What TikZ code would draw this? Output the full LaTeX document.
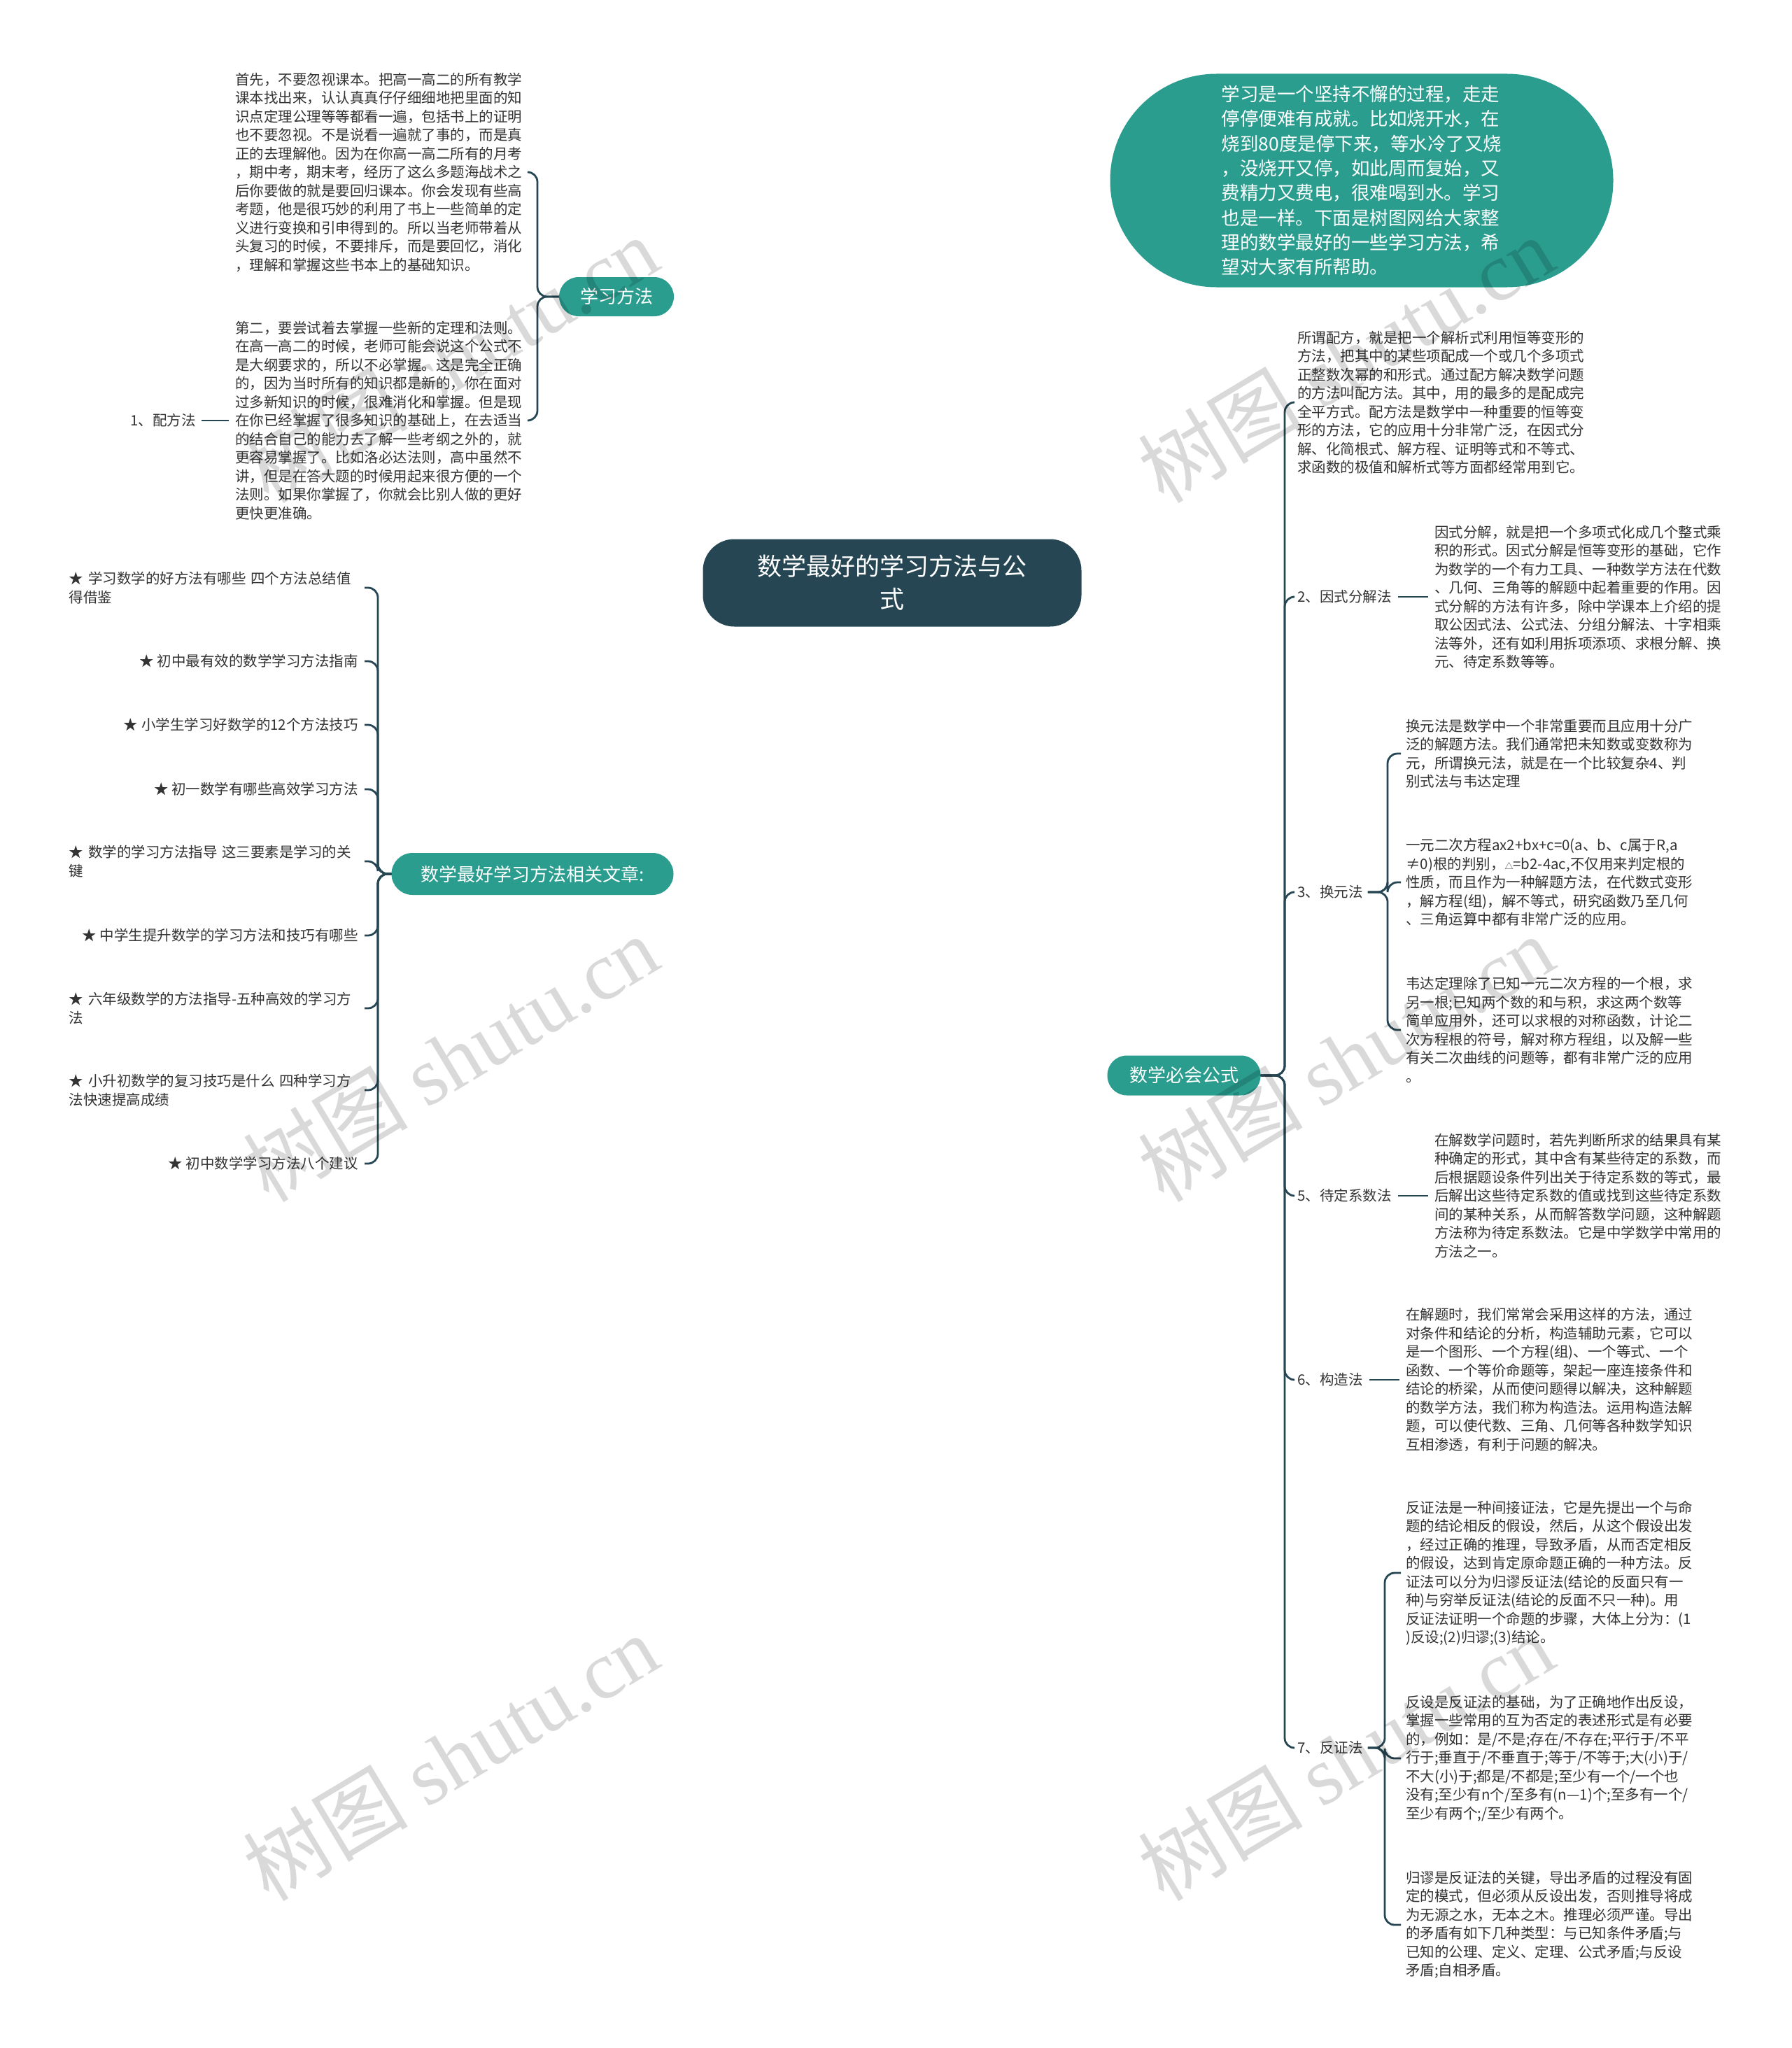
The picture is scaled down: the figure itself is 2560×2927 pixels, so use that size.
\documentclass[tikz,border=0pt]{standalone}
\usepackage{fontspec}
\setmainfont{Noto Sans CJK SC}
\newfontfamily\wmserif{Liberation Serif}
\usetikzlibrary{backgrounds}
\definecolor{dk}{HTML}{264653}
\definecolor{tl}{HTML}{2A9D8F}
\definecolor{tx}{HTML}{333333}
\tikzset{
  leaf/.style={inner sep=0pt, align=left, text=tx, font=\fontsize{20.5}{26.5}\selectfont},
  branch/.style={fill=tl, text=white, inner sep=0pt, font=\fontsize{26}{30}\selectfont},
  conn/.style={draw=dk, line width=3pt},
  brk/.style={draw=dk, line width=2.8pt, rounded corners=14pt},
  wm/.style={text=black, opacity=0.15, rotate=31, inner sep=0pt, font=\fontsize{118}{120}\selectfont}
}
\begin{document}
\begin{tikzpicture}[x=1pt,y=-1pt]
\useasboundingbox (0,0) rectangle (2560,2927);
\fill[white] (0,0) rectangle (2560,2927);

% root and main branches
\node[fill=dk, text=white, rounded corners=45pt, minimum width=541pt, minimum height=125pt, align=center, inner sep=0pt, font=\fontsize{35}{47}\selectfont] (root) at (1275,833) {数学最好的学习方法与公\\式};
\node[fill=tl, text=white, rounded corners=152pt, minimum width=719pt, minimum height=305pt, align=left, inner sep=0pt, font=\fontsize{26.5}{35.3}\selectfont] (intro) at (1946,258) {学习是一个坚持不懈的过程，走走\\停停便难有成就。比如烧开水，在\\烧到80度是停下来，等水冷了又烧\\，没烧开又停，如此周而复始，又\\费精力又费电，很难喝到水。学习\\也是一样。下面是树图网给大家整\\理的数学最好的一些学习方法，希\\望对大家有所帮助。};
\node[branch, rounded corners=28pt, minimum width=164pt, minimum height=56pt] (xf) at (881,424) {学习方法};
\node[branch, rounded corners=30pt, minimum width=403pt, minimum height=60pt] (wz) at (761,1249) {数学最好学习方法相关文章:};
\node[branch, rounded corners=28pt, minimum width=219pt, minimum height=57pt] (ms) at (1692,1537) {数学必会公式};

% 学习方法 children
\node[leaf, anchor=west] (b1) at (336,246) {首先，不要忽视课本。把高一高二的所有教学\\课本找出来，认认真真仔仔细细地把里面的知\\识点定理公理等等都看一遍，包括书上的证明\\也不要忽视。不是说看一遍就了事的，而是真\\正的去理解他。因为在你高一高二所有的月考\\，期中考，期末考，经历了这么多题海战术之\\后你要做的就是要回归课本。你会发现有些高\\考题，他是很巧妙的利用了书上一些简单的定\\义进行变换和引申得到的。所以当老师带着从\\头复习的时候，不要排斥，而是要回忆，消化\\，理解和掌握这些书本上的基础知识。};
\node[leaf, anchor=west] (b2) at (336,601) {第二，要尝试着去掌握一些新的定理和法则。\\在高一高二的时候，老师可能会说这个公式不\\是大纲要求的，所以不必掌握。这是完全正确\\的，因为当时所有的知识都是新的，你在面对\\过多新知识的时候，很难消化和掌握。但是现\\在你已经掌握了很多知识的基础上，在去适当\\的结合自己的能力去了解一些考纲之外的，就\\更容易掌握了。比如洛必达法则，高中虽然不\\讲，但是在答大题的时候用起来很方便的一个\\法则。如果你掌握了，你就会比别人做的更好\\更快更准确。};
\node[leaf, anchor=east] (pf) at (280,601) {1、配方法};

% related articles
\node[leaf, anchor=east, text width=413pt] (w1) at (512,840) {★ 学习数学的好方法有哪些 四个方法总结值\\得借鉴};
\node[leaf, anchor=east] (w2) at (512,945) {★ 初中最有效的数学学习方法指南};
\node[leaf, anchor=east] (w3) at (512,1036) {★ 小学生学习好数学的12个方法技巧};
\node[leaf, anchor=east] (w4) at (512,1128) {★ 初一数学有哪些高效学习方法};
\node[leaf, anchor=east, text width=413pt] (w5) at (512,1231) {★ 数学的学习方法指导 这三要素是学习的关\\键};
\node[leaf, anchor=east] (w6) at (512,1337) {★ 中学生提升数学的学习方法和技巧有哪些};
\node[leaf, anchor=east, text width=413pt] (w7) at (512,1441) {★ 六年级数学的方法指导-五种高效的学习方\\法};
\node[leaf, anchor=east, text width=413pt] (w8) at (512,1558) {★ 小升初数学的复习技巧是什么 四种学习方\\法快速提高成绩};
\node[leaf, anchor=east] (w9) at (512,1663) {★ 初中数学学习方法八个建议};

% formulas
\node[leaf, anchor=west] (fa) at (1854,575) {所谓配方，就是把一个解析式利用恒等变形的\\方法，把其中的某些项配成一个或几个多项式\\正整数次幂的和形式。通过配方解决数学问题\\的方法叫配方法。其中，用的最多的是配成完\\全平方式。配方法是数学中一种重要的恒等变\\形的方法，它的应用十分非常广泛，在因式分\\解、化简根式、解方程、证明等式和不等式、\\求函数的极值和解析式等方面都经常用到它。};
\node[leaf, anchor=west] (ys) at (1854,853) {2、因式分解法};
\node[leaf, anchor=west] (ysb) at (2050,853) {因式分解，就是把一个多项式化成几个整式乘\\积的形式。因式分解是恒等变形的基础，它作\\为数学的一个有力工具、一种数学方法在代数\\、几何、三角等的解题中起着重要的作用。因\\式分解的方法有许多，除中学课本上介绍的提\\取公因式法、公式法、分组分解法、十字相乘\\法等外，还有如利用拆项添项、求根分解、换\\元、待定系数等等。};
\node[leaf, anchor=west] (hy) at (1854,1275) {3、换元法};
\node[leaf, anchor=west] (c1) at (2009,1077) {换元法是数学中一个非常重要而且应用十分广\\泛的解题方法。我们通常把未知数或变数称为\\元，所谓换元法，就是在一个比较复杂4、判\\别式法与韦达定理};
\node[leaf, anchor=west] (c2) at (2009,1261) {一元二次方程ax2+bx+c=0(a、b、c属于R,a\\≠0)根的判别，{\fontsize{12}{12}\selectfont △}=b2-4ac,不仅用来判定根的\\性质，而且作为一种解题方法，在代数式变形\\，解方程(组)，解不等式，研究函数乃至几何\\、三角运算中都有非常广泛的应用。};
\node[leaf, anchor=west] (c3) at (2009,1472) {韦达定理除了已知一元二次方程的一个根，求\\另一根;已知两个数的和与积，求这两个数等\\简单应用外，还可以求根的对称函数，计论二\\次方程根的符号，解对称方程组，以及解一些\\有关二次曲线的问题等，都有非常广泛的应用\\。};
\node[leaf, anchor=west] (dd) at (1854,1709) {5、待定系数法};
\node[leaf, anchor=west] (ddb) at (2050,1709) {在解数学问题时，若先判断所求的结果具有某\\种确定的形式，其中含有某些待定的系数，而\\后根据题设条件列出关于待定系数的等式，最\\后解出这些待定系数的值或找到这些待定系数\\间的某种关系，从而解答数学问题，这种解题\\方法称为待定系数法。它是中学数学中常用的\\方法之一。};
\node[leaf, anchor=west] (gz) at (1854,1972) {6、构造法};
\node[leaf, anchor=west] (gzb) at (2009,1972) {在解题时，我们常常会采用这样的方法，通过\\对条件和结论的分析，构造辅助元素，它可以\\是一个图形、一个方程(组)、一个等式、一个\\函数、一个等价命题等，架起一座连接条件和\\结论的桥梁，从而使问题得以解决，这种解题\\的数学方法，我们称为构造法。运用构造法解\\题，可以使代数、三角、几何等各种数学知识\\互相渗透，有利于问题的解决。};
\node[leaf, anchor=west] (fz) at (1854,2498) {7、反证法};
\node[leaf, anchor=west] (d1) at (2009,2248) {反证法是一种间接证法，它是先提出一个与命\\题的结论相反的假设，然后，从这个假设出发\\，经过正确的推理，导致矛盾，从而否定相反\\的假设，达到肯定原命题正确的一种方法。反\\证法可以分为归谬反证法(结论的反面只有一\\种)与穷举反证法(结论的反面不只一种)。用\\反证法证明一个命题的步骤，大体上分为：(1\\)反设;(2)归谬;(3)结论。};
\node[leaf, anchor=west] (d2) at (2009,2513) {反设是反证法的基础，为了正确地作出反设，\\掌握一些常用的互为否定的表述形式是有必要\\的，例如：是/不是;存在/不存在;平行于/不平\\行于;垂直于/不垂直于;等于/不等于;大(小)于/\\不大(小)于;都是/不都是;至少有一个/一个也\\没有;至少有n个/至多有(n—1)个;至多有一个/\\至少有两个;/至少有两个。};
\node[leaf, anchor=west] (d3) at (2009,2751) {归谬是反证法的关键，导出矛盾的过程没有固\\定的模式，但必须从反设出发，否则推导将成\\为无源之水，无本之木。推理必须严谨。导出\\的矛盾有如下几种类型：与已知条件矛盾;与\\已知的公理、定义、定理、公式矛盾;与反设\\矛盾;自相矛盾。};

% trunk coordinates
\coordinate (xft) at (768,424);
\coordinate (wzt) at (540,1249);
\coordinate (mst) at (1836,1537);
\coordinate (hyt) at (1983,1275);
\coordinate (fzt) at (1979,2498);

\begin{scope}[on background layer]
\draw[conn] (root.center) .. controls (1275,500) and (1120,424) .. (xf.east);
\draw[conn] (root.center) .. controls (1275,330) and (1400,261) .. (intro.west);
\draw[conn] (root.center) .. controls (1275,1150) and (1120,1249) .. (wz.east);
\draw[conn] (root.center) .. controls (1275,1400) and (1430,1537) .. (ms.west);
\end{scope}

% 学习方法 bracket
\foreach \c in {b1,b2}
  \draw[brk] (xf.west) -- (xft) -- (xft |- \c.east) -- ([xshift=8pt]\c.east);
\draw[brk] ([xshift=-9pt]b2.west) -- ([xshift=8pt]pf.east);

% related bracket
\foreach \c in {w1,w2,w3,w4,w5,w6,w7,w8,w9}
  \draw[brk] (wz.west) -- (wzt) -- (wzt |- \c.east) -- ([xshift=9pt]\c.east);

% formulas bracket
\foreach \c in {fa,ys,hy,dd,gz,fz}
  \draw[brk] (ms.east) -- (mst) -- (mst |- \c.west) -- ([xshift=-6pt]\c.west);
\draw[brk] ([xshift=9pt]ys.east) -- ([xshift=-9pt]ysb.west);
\draw[brk] ([xshift=9pt]dd.east) -- ([xshift=-9pt]ddb.west);
\draw[brk] ([xshift=9pt]gz.east) -- ([xshift=-9pt]gzb.west);
\foreach \c in {c1,c2,c3}
  \draw[brk] ([xshift=7pt]hy.east) -- (hyt) -- (hyt |- \c.west) -- ([xshift=-7pt]\c.west);
\foreach \c in {d1,d2,d3}
  \draw[brk] ([xshift=7pt]fz.east) -- (fzt) -- (fzt |- \c.west) -- ([xshift=-7pt]\c.west);

% watermarks
\foreach \p in {(644,513),(1923,513),(644,1512),(1923,1512),(644,2511),(1923,2511)}
  \node[wm] at \p {树图 {\wmserif shutu.cn}};
\end{tikzpicture}
\end{document}
